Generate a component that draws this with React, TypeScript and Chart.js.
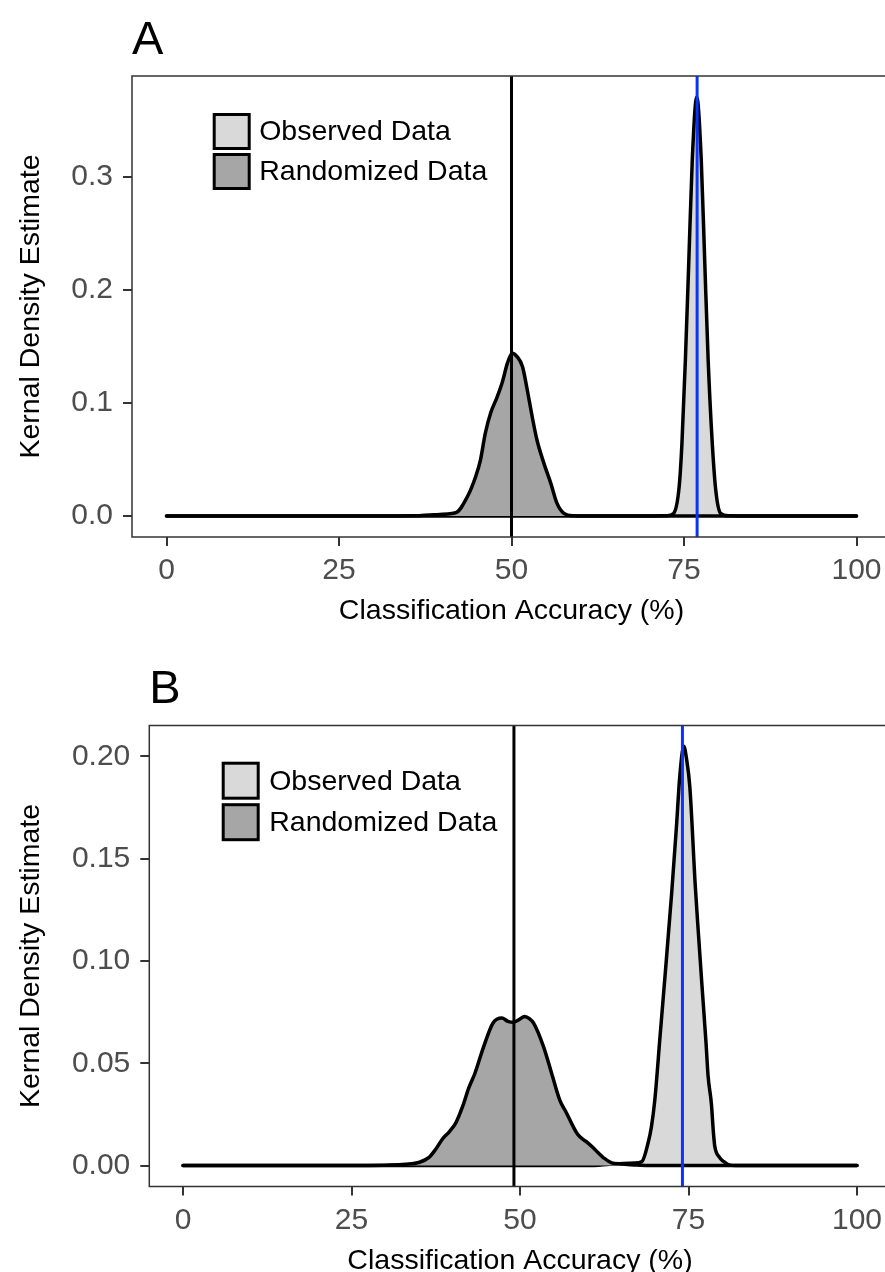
import React, { useEffect, useRef } from 'react';
import { Chart, registerables } from 'chart.js';
Chart.register(...registerables);

const FONT = '"Liberation Sans", Arial, Helvetica, sans-serif';

// ---------- shared ----------
const X_TICKS = [0, 25, 50, 75, 100];
const X_LABEL = 'Classification Accuracy (%)';
const Y_LABEL = 'Kernal Density Estimate';
const LEGEND_OBS = 'Observed Data';
const LEGEND_RAND = 'Randomized Data';

// ---------- panel A ----------
const A_RAND_X = [0, 30, 36, 38.7, 41.9, 43.6, 44.8, 45.5, 46.2, 47.0, 47.9, 48.7, 49.4, 50.1, 50.8, 51.6, 52.3, 53.0, 53.7, 54.7, 55.7, 56.6, 57.6, 59.0, 62, 100];
const A_RAND_Y = [0, 0, 0.0002, 0.0012, 0.0029, 0.0171, 0.0348, 0.0495, 0.0731, 0.0915, 0.105, 0.119, 0.135, 0.1439, 0.141, 0.132, 0.111, 0.0878, 0.067, 0.0466, 0.0289, 0.0112, 0.0024, 0.0003, 0, 0];
const A_OBS_X = [0, 70, 72.5, 73.5, 74.3, 74.7, 75.2, 75.7, 76.2, 76.85, 77.5, 78.0, 78.5, 79.1, 79.6, 80.3, 81.5, 85, 100];
const A_OBS_Y = [0, 0, 0.0003, 0.0024, 0.026, 0.064, 0.138, 0.226, 0.315, 0.3705, 0.315, 0.226, 0.138, 0.064, 0.023, 0.0024, 0.0002, 0, 0];
const A_RAND_MEAN = 50.0;
const A_OBS_VALUE = 76.9;
const A_Y_RANGE = [-0.0185, 0.389];
const A_Y_TICKS = [0, 0.1, 0.2, 0.3];
const A_Y_LABELS = ['0.0', '0.1', '0.2', '0.3'];

// ---------- panel B ----------
const B_RAND_X = [0, 25, 30, 33, 35.1, 36.5, 37.5, 38.5, 39.5, 40.5, 41.5, 42.4, 43.3, 44.6, 46.0, 47.3, 48.2, 49.0, 49.8, 50.7, 51.4, 52.0, 53.5, 54.7, 55.9, 56.9, 57.9, 58.6, 59.4, 60.1, 60.9, 61.6, 62.4, 63.6, 65, 67, 69, 100];
const B_RAND_Y = [0, 0, 0.0002, 0.0006, 0.0016, 0.004, 0.008, 0.013, 0.0165, 0.021, 0.029, 0.038, 0.045, 0.058, 0.0697, 0.0721, 0.0705, 0.070, 0.0712, 0.0729, 0.0718, 0.0697, 0.058, 0.045, 0.032, 0.0257, 0.019, 0.0151, 0.0127, 0.011, 0.0086, 0.0062, 0.0038, 0.0013, 0.0008, 0.0003, 0, 0];
const B_OBS_X = [0, 60, 64, 67, 68.1, 69.0, 69.5, 70.0, 70.8, 71.5, 72.5, 73.2, 73.7, 74.3, 74.7, 75.2, 76.0, 76.5, 77.0, 77.6, 77.9, 78.4, 78.7, 78.9, 79.6, 80.2, 80.9, 82, 100];
const B_OBS_Y = [0, 0, 0.0008, 0.0012, 0.002, 0.011, 0.019, 0.032, 0.064, 0.092, 0.133, 0.165, 0.190, 0.205, 0.199, 0.185, 0.137, 0.112, 0.088, 0.060, 0.044, 0.030, 0.016, 0.0094, 0.004, 0.002, 0.0005, 0, 0];
const B_RAND_MEAN = 49.1;
const B_OBS_VALUE = 74.1;
const B_Y_RANGE = [-0.01024, 0.2151];
const B_Y_TICKS = [0, 0.05, 0.1, 0.15, 0.2];
const B_Y_LABELS = ['0.00', '0.05', '0.10', '0.15', '0.20'];

const OBS_FILL = '#d9d9d9';
const RAND_FILL = '#a6a6a6';
const BLUE = '#0a33ff';

const toPoints = (xs: number[], ys: number[]) => xs.map((x, i) => ({ x, y: ys[i] }));

const decorPlugin = {
  id: 'panelDecor',
  afterDatasetsDraw(chart: any, _args: any, opts: any) {
    const { ctx, chartArea } = chart;
    const { left, top, right, bottom } = chartArea;
    ctx.save();
    // panel border
    ctx.strokeStyle = '#333333';
    ctx.lineWidth = 1.5;
    ctx.strokeRect(left, top, right - left, bottom - top);
    // legend
    const items = chart.data.datasets.filter((d: any) => d.legendText);
    items.forEach((d: any, i: number) => {
      const bx = left + opts.legendX;
      const by = top + opts.legendY + i * opts.legendPitch;
      ctx.fillStyle = d.backgroundColor;
      ctx.fillRect(bx, by, opts.boxW, opts.boxH);
      ctx.strokeStyle = '#000000';
      ctx.lineWidth = 3;
      ctx.strokeRect(bx, by, opts.boxW, opts.boxH);
      ctx.fillStyle = '#000000';
      ctx.font = `28.5px ${FONT}`;
      ctx.textAlign = 'left';
      ctx.textBaseline = 'middle';
      ctx.fillText(d.legendText, bx + opts.boxW + opts.textGap, by + opts.boxH / 2 + 1);
    });
    // panel letter
    ctx.fillStyle = '#000000';
    ctx.font = `47px ${FONT}`;
    ctx.textAlign = 'left';
    ctx.textBaseline = 'alphabetic';
    ctx.fillText(opts.letter, left + opts.letterDx, top - opts.letterDy);
    ctx.restore();
  },
};

function buildConfig(p: any) {
  const densityStyle = {
    borderColor: '#000000',
    borderWidth: 3.5,
    pointRadius: 0,
    fill: 'origin',
    cubicInterpolationMode: 'monotone',
    borderJoinStyle: 'round',
    borderCapStyle: 'round',
  };
  const vline = (x: number, color: string) => ({
    data: [{ x, y: p.yRange[0] }, { x, y: p.yRange[1] }],
    borderColor: color,
    borderWidth: 3,
    pointRadius: 0,
    fill: false,
    order: 0,
  });
  return {
    type: 'line',
    data: {
      datasets: [
        { ...densityStyle, data: toPoints(p.obsX, p.obsY), backgroundColor: OBS_FILL, legendText: LEGEND_OBS, order: 2 },
        { ...densityStyle, data: toPoints(p.randX, p.randY), backgroundColor: RAND_FILL, legendText: LEGEND_RAND, order: 1 },
        vline(p.randMean, '#000000'),
        vline(p.obsValue, BLUE),
      ],
    },
    options: {
      responsive: false,
      animation: false,
      devicePixelRatio: 1,
      events: [],
      layout: { padding: { left: 0, top: p.padTop, right: p.padRight, bottom: 0 } },
      plugins: {
        legend: { display: false },
        tooltip: { enabled: false },
        panelDecor: p.decor,
      },
      scales: {
        x: {
          type: 'linear',
          position: 'bottom',
          min: -5,
          max: 105,
          afterBuildTicks: (s: any) => { s.ticks = X_TICKS.map((v) => ({ value: v })); },
          afterFit: (s: any) => { s.height = p.xAxisH; },
          grid: { display: true, drawOnChartArea: false, drawTicks: true, tickLength: 9, color: '#333333', lineWidth: 2 },
          border: { display: false },
          ticks: {
            color: '#4d4d4d',
            font: { family: FONT, size: 30 },
            padding: 7,
            maxRotation: 0,
            autoSkip: false,
            callback: (v: any) => String(v),
          },
          title: {
            display: true,
            text: X_LABEL,
            color: '#000000',
            font: { family: FONT, size: 28.5 },
            padding: { top: 0, bottom: p.xTitlePad },
          },
        },
        y: {
          type: 'linear',
          min: p.yRange[0],
          max: p.yRange[1],
          afterBuildTicks: (s: any) => { s.ticks = p.yTicks.map((v: number) => ({ value: v })); },
          afterFit: (s: any) => { s.width = p.yAxisW; },
          grid: { display: true, drawOnChartArea: false, drawTicks: true, tickLength: 9, color: '#333333', lineWidth: 2 },
          border: { display: false },
          ticks: {
            color: '#4d4d4d',
            font: { family: FONT, size: 30 },
            padding: 10,
            autoSkip: false,
            callback: (v: any) => {
              const i = p.yTicks.findIndex((t: number) => Math.abs(t - v) < 1e-9);
              return i >= 0 ? p.yLabels[i] : '';
            },
          },
          title: {
            display: true,
            text: Y_LABEL,
            color: '#000000',
            font: { family: FONT, size: 28.5 },
            padding: { top: 14, bottom: 0 },
          },
        },
      },
    },
    plugins: [decorPlugin],
  } as any;
}

const PANEL_A = {
  obsX: A_OBS_X, obsY: A_OBS_Y, randX: A_RAND_X, randY: A_RAND_Y,
  randMean: A_RAND_MEAN, obsValue: A_OBS_VALUE,
  yRange: A_Y_RANGE, yTicks: A_Y_TICKS, yLabels: A_Y_LABELS,
  padTop: 76, padRight: 9, yAxisW: 132, xAxisH: 103, xTitlePad: 11.5,
  decor: { letter: 'A', letterDx: 0, letterDy: 22, legendX: 82.2, legendY: 38.5, legendPitch: 40, boxW: 35, boxH: 34, textGap: 10 },
};

const PANEL_B = {
  obsX: B_OBS_X, obsY: B_OBS_Y, randX: B_RAND_X, randY: B_RAND_Y,
  randMean: B_RAND_MEAN, obsValue: B_OBS_VALUE,
  yRange: B_Y_RANGE, yTicks: B_Y_TICKS, yLabels: B_Y_LABELS,
  padTop: 85.5, padRight: 9.3, yAxisW: 149.3, xAxisH: 93.5, xTitlePad: 1.5,
  decor: { letter: 'B', letterDx: 0, letterDy: 23, legendX: 73.9, legendY: 37.7, legendPitch: 41.5, boxW: 35, boxH: 35, textGap: 11 },
};

export default function App() {
  const refA = useRef<HTMLCanvasElement>(null);
  const refB = useRef<HTMLCanvasElement>(null);
  useEffect(() => {
    const a = new Chart(refA.current as HTMLCanvasElement, buildConfig(PANEL_A));
    const b = new Chart(refB.current as HTMLCanvasElement, buildConfig(PANEL_B));
    return () => {
      a.destroy();
      b.destroy();
    };
  }, []);
  return (
    <div style={{ position: 'fixed', left: 0, top: 0, width: 885, height: 1272, overflow: 'hidden', background: '#ffffff' }}>
      <canvas ref={refA} width={900} height={640} style={{ position: 'absolute', left: 0, top: 0, width: 900, height: 640 }} />
      <canvas ref={refB} width={900} height={640} style={{ position: 'absolute', left: 0, top: 640, width: 900, height: 640 }} />
    </div>
  );
}
